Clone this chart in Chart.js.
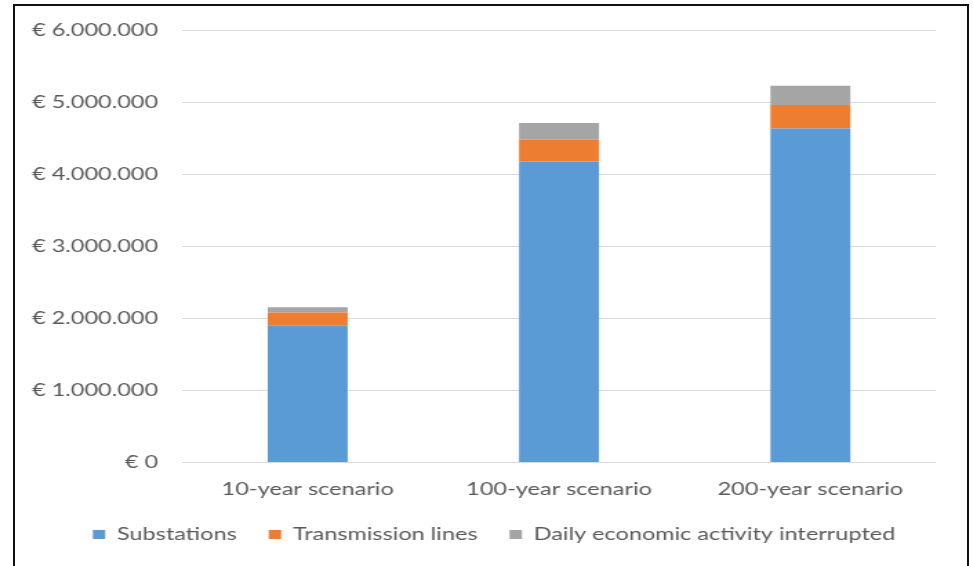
<!DOCTYPE html>
<html>
<head>
<meta charset="utf-8">
<script src="https://cdn.jsdelivr.net/npm/chart.js@4.4.1/dist/chart.umd.min.js"></script>
<style>
  html, body { margin: 0; padding: 0; background: #fff; overflow: hidden; }
  #stage { position: absolute; left: 0; top: 0; width: 973px; height: 566px; overflow: hidden; background: #fff; }
  #wrap { position: absolute; left: 0; top: 0; height: 566px; transform-origin: 0 0; }
  #frame { position: absolute; left: 13px; top: 4px; width: 956px; height: 620px;
           box-sizing: border-box; border: 2px solid #111; pointer-events: none; }
</style>
</head>
<body>
<div id="stage">
  <div id="wrap"><canvas id="c"></canvas></div>
  <div id="frame"></div>
</div>
<script>
// Scenario costs, stacked by component (EUR)
const categories = ['10-year scenario', '100-year scenario', '200-year scenario'];
const substations = [1900000, 4180000, 4640000];
const transmissionLines = [185000, 305000, 325000];
const dailyActivity = [70000, 230000, 268000];
const seriesNames = ['Substations', 'Transmission lines', 'Daily economic activity interrupted'];

// The page is drawn narrow and widened, giving the wide letterforms of the figure
const SX = 1.38;
const W = 973 / SX;
const wrap = document.getElementById('wrap');
wrap.style.width = W + 'px';
wrap.style.transform = 'scaleX(' + SX + ')';

const textColor = '#595959';
const family = 'Lato, "Open Sans", sans-serif';
const font = { family: family, size: 17 };
const tickFont = { family: family, size: 17 };

function euro(v) {
  const s = Math.round(v).toString().replace(/\B(?=(\d{3})+(?!\d))/g, '.');
  return '\u20AC ' + s;
}

// Let the value labels use the whole left margin instead of only the axis box
const labelRoom = {
  id: 'labelRoom',
  afterLayout(chart) { chart.scales.y.left = 0; }
};

new Chart(document.getElementById('c'), {
  type: 'bar',
  data: {
    labels: categories,
    datasets: [
      { label: seriesNames[0], data: substations, backgroundColor: '#5B9BD5' },
      { label: seriesNames[1], data: transmissionLines, backgroundColor: '#ED7D31' },
      { label: seriesNames[2], data: dailyActivity, backgroundColor: '#A5A5A5' }
    ]
  },
  plugins: [labelRoom],
  options: {
    responsive: true,
    maintainAspectRatio: false,
    animation: false,
    devicePixelRatio: 1,
    layout: { padding: { left: 52 / SX, right: 37 / SX, top: 30.5, bottom: 13 } },
    datasets: { bar: { barPercentage: 0.318, categoryPercentage: 1, borderWidth: 0 } },
    scales: {
      x: {
        stacked: true,
        grid: { display: false, drawTicks: false },
        border: { display: false },
        ticks: { color: textColor, font: font, padding: 17, maxRotation: 0 },
        afterFit: (s) => { s.height = 40.3; }
      },
      y: {
        stacked: true,
        min: 0, max: 6000000,
        grid: { color: '#D9D9D9', lineWidth: 1, drawTicks: false },
        border: { display: false },
        ticks: { color: textColor, font: tickFont, padding: 24 / SX, stepSize: 1000000, callback: (v) => euro(v) },
        afterFit: (s) => { s.width = (182 - 52) / SX; }
      }
    },
    plugins: {
      tooltip: { enabled: false },
      legend: {
        position: 'bottom',
        labels: { color: textColor, font: font, boxWidth: 9, boxHeight: 9, padding: 32 / SX }
      }
    }
  }
});
</script>
</body>
</html>
